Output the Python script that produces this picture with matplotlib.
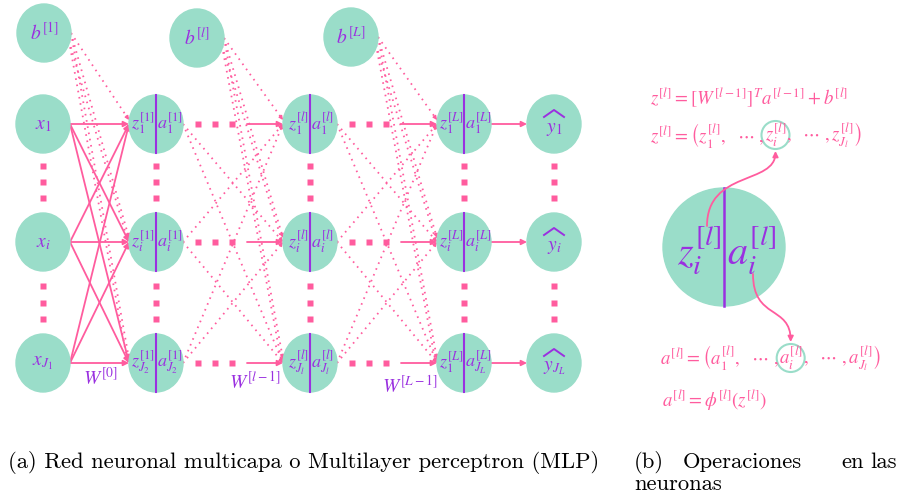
import matplotlib
matplotlib.use("Agg")
import matplotlib.pyplot as plt
from matplotlib.patches import Ellipse, FancyArrowPatch
from matplotlib.path import Path

plt.rcParams['mathtext.fontset'] = 'stix'

GREEN = '#9addc9'
PINK = '#ff5c9e'
PURPLE = '#9a30e0'

# layout of the network (pixel units)
rows = [124, 242, 363]
input_x = 43
layer_x = [156, 310, 464]
output_x = 554
bias_pos = [(44, 33), (197, 38), (351, 37)]

bias_labels = [r'$b^{[1]}$', r'$b^{[l]}$', r'$b^{[L]}$']
input_labels = [r'$x_1$', r'$x_i$', r'$x_{J_1}$']
z_labels = [
    [r'$z_1^{[1]}$', r'$z_i^{[1]}$', r'$z_{J_2}^{[1]}$'],
    [r'$z_1^{[l]}$', r'$z_i^{[l]}$', r'$z_{J_l}^{[l]}$'],
    [r'$z_1^{[L]}$', r'$z_i^{[L]}$', r'$z_1^{[L]}$'],
]
a_labels = [
    [r'$a_1^{[1]}$', r'$a_i^{[1]}$', r'$a_{J_2}^{[1]}$'],
    [r'$a_1^{[l]}$', r'$a_i^{[l]}$', r'$a_{J_l}^{[l]}$'],
    [r'$a_1^{[L]}$', r'$a_i^{[L]}$', r'$a_{J_L}^{[L]}$'],
]
output_labels = [r'$y_1$', r'$y_i$', r'$y_{J_L}$']
w_labels = [r'$W^{[0]}$', r'$W^{[l-1]}$', r'$W^{[L-1]}$']
w_pos = [(100, 378), (255, 382), (410, 386)]

RX, RY = 27, 29

fig = plt.figure(figsize=(9, 4.95), dpi=100)
ax = fig.add_axes([0, 0, 1, 1])
ax.set_xlim(0, 900)
ax.set_ylim(495, 0)
ax.axis('off')


def node(x, y, rx=RX, ry=RY, split=False, lw=1.5):
    ax.add_patch(Ellipse((x, y), 2 * rx, 2 * ry, color=GREEN, zorder=2))
    if split:
        ax.plot([x, x], [y - ry, y + ry], color=PURPLE, lw=1.5 if lw is None else lw, zorder=3)


def arrow(p0, p1, lw=1.3, ms=8):
    ax.add_patch(FancyArrowPatch(p0, p1, arrowstyle='-|>', mutation_scale=ms,
                                 color=PINK, lw=lw, shrinkA=0, shrinkB=0, zorder=1))


def dotted_arrow(p0, p1):
    ax.plot([p0[0], p1[0]], [p0[1], p1[1]], color=PINK, lw=1.3,
            dashes=(0.9, 2.6), dash_capstyle='butt', zorder=1)
    dx, dy = p1[0] - p0[0], p1[1] - p0[1]
    n = (dx * dx + dy * dy) ** 0.5
    q = (p1[0] - 5 * dx / n, p1[1] - 5 * dy / n)
    ax.add_patch(FancyArrowPatch(q, p1, arrowstyle='-|>', mutation_scale=6,
                                 color=PINK, lw=0.8, shrinkA=0, shrinkB=0, zorder=1))


def squares(xs, ys):
    ax.plot(xs, ys, 's', color=PINK, ms=4.3, mec='none', zorder=1)


# nodes
for (bx, by), lab in zip(bias_pos, bias_labels):
    node(bx, by)
    ax.text(bx, by, lab, color=PURPLE, fontsize=14, ha='center', va='center', zorder=4)

for y, lab in zip(rows, input_labels):
    node(input_x, y)
    ax.text(input_x, y, lab, color=PURPLE, fontsize=14, ha='center', va='center', zorder=4)

for k, lx in enumerate(layer_x):
    for j, y in enumerate(rows):
        node(lx, y, split=True)
        ax.text(lx - 1, y, z_labels[k][j], color=PURPLE, fontsize=13, ha='right', va='center', zorder=4)
        ax.text(lx + 1, y, a_labels[k][j], color=PURPLE, fontsize=13, ha='left', va='center', zorder=4)

for y, lab in zip(rows, output_labels):
    node(output_x, y)
    ax.text(output_x, y + 5, lab, color=PURPLE, fontsize=14, ha='center', va='center', zorder=4)
    ax.plot([output_x - 10, output_x, output_x + 10], [y - 7, y - 14, y - 7],
            color=PURPLE, lw=1.4, zorder=4)

# vertical dots between rows
for cx in [input_x] + layer_x + [output_x]:
    squares([cx] * 3, [166, 182, 198])
    squares([cx] * 3, [286, 303, 319])

# input -> first layer (solid, all to all)
for ys in rows:
    for yt in rows:
        arrow((input_x + RX, ys), (layer_x[0] - RX, yt))

# bias -> layer (dotted)
for (bx, by), lx in zip(bias_pos, layer_x):
    for j, yt in enumerate(rows):
        dotted_arrow((bx + RX, by), (lx - RX, yt - 4))
        if j > 0:
            ax.plot([bx + RX - 2, lx - RX - 2], [by + 8, yt - 4], color=PINK, lw=1.3,
                    dashes=(0.9, 2.6), zorder=1)

# hidden -> hidden (dotted crosses + dotted squares + short arrow)
for k in range(2):
    x0 = layer_x[k] + RX
    x1 = layer_x[k + 1] - RX
    for ys in rows:
        for yt in rows:
            if ys != yt:
                dotted_arrow((x0, ys), (x1, yt))
    for yt in rows:
        squares([x0 + 15, x0 + 32, x0 + 49], [yt] * 3)
        arrow((x1 - 36, yt), (x1, yt))

# last layer -> outputs
for y in rows:
    arrow((layer_x[2] + RX, y), (output_x - RX, y))

for (wx, wy), lab in zip(w_pos, w_labels):
    ax.text(wx, wy, lab, color=PURPLE, fontsize=14, ha='center', va='center')

# right panel: operations in a neuron
eq_size = 13.5
fig.canvas.draw()
renderer = fig.canvas.get_renderer()
inv = ax.transData.inverted()


def chain(x, y, parts):
    # writes the pieces one after the other and returns the x-range of each
    spans = []
    for p in parts:
        t = ax.text(x, y, p, color=PINK, fontsize=eq_size, ha='left', va='center')
        bb = t.get_window_extent(renderer)
        xa = inv.transform((bb.x0, bb.y0))[0]
        xb = inv.transform((bb.x1, bb.y0))[0]
        spans.append((xa, xb))
        x = xb
    return spans


ax.text(650, 98, r'$z^{[l]}=\left[W^{[l-1]}\right]^T a^{[l-1]}+b^{[l]}$',
        color=PINK, fontsize=eq_size, ha='left', va='center')
sz = chain(650, 135, [r'$z^{[l]}=\left(z_1^{[l]},\ \ \cdots\ ,\right.$',
                      r'$z_i^{[l]}$',
                      r'$\left.,\ \ \cdots\ ,z_{J_l}^{[l]}\right)$'])
sa = chain(660, 358, [r'$a^{[l]}=\left(a_1^{[l]},\ \ \cdots\ ,\right.$',
                      r'$a_i^{[l]}$',
                      r'$\left.,\ \ \cdots\ ,a_{J_l}^{[l]}\right)$'])
ax.text(662, 400, r'$a^{[l]}=\phi^{[l]}\left(z^{[l]}\right)$',
        color=PINK, fontsize=eq_size, ha='left', va='center')

cz = (sz[1][0] + sz[1][1]) / 2
ca = (sa[1][0] + sa[1][1]) / 2
ax.add_patch(Ellipse((cz, 135), 28, 28, fill=False, ec=GREEN, lw=1.5))
ax.add_patch(Ellipse((ca, 358), 28, 28, fill=False, ec=GREEN, lw=1.5))

node(724, 247, rx=61, ry=59, split=True, lw=1.8)
ax.text(721, 250, r'$z_i^{[l]}$', color=PURPLE, fontsize=29, ha='right', va='center', zorder=4)
ax.text(727, 250, r'$a_i^{[l]}$', color=PURPLE, fontsize=29, ha='left', va='center', zorder=4)

p1 = Path([(707, 226), (707, 170), (cz, 185), (cz, 151)],
          [Path.MOVETO, Path.CURVE4, Path.CURVE4, Path.CURVE4])
ax.add_patch(FancyArrowPatch(path=p1, arrowstyle='-|>', mutation_scale=8,
                             color=PINK, lw=1.3, zorder=5))
p2 = Path([(753, 274), (753, 320), (ca, 305), (ca, 342)],
          [Path.MOVETO, Path.CURVE4, Path.CURVE4, Path.CURVE4])
ax.add_patch(FancyArrowPatch(path=p2, arrowstyle='-|>', mutation_scale=8,
                             color=PINK, lw=1.3, zorder=5))

# captions
cap = dict(family='cmr10', fontsize=16.3, color='black', va='baseline')
ax.text(8, 468, '(a) Red neuronal multicapa o Multilayer perceptron (MLP)', ha='left', **cap)
ax.text(634, 468, '(b)', ha='left', **cap)
ax.text(683, 468, 'Operaciones', ha='left', **cap)
ax.text(841, 468, 'en', ha='left', **cap)
ax.text(897, 468, 'las', ha='right', **cap)
ax.text(634, 490, 'neuronas', ha='left', **cap)

fig.savefig('out.png', dpi=100)
